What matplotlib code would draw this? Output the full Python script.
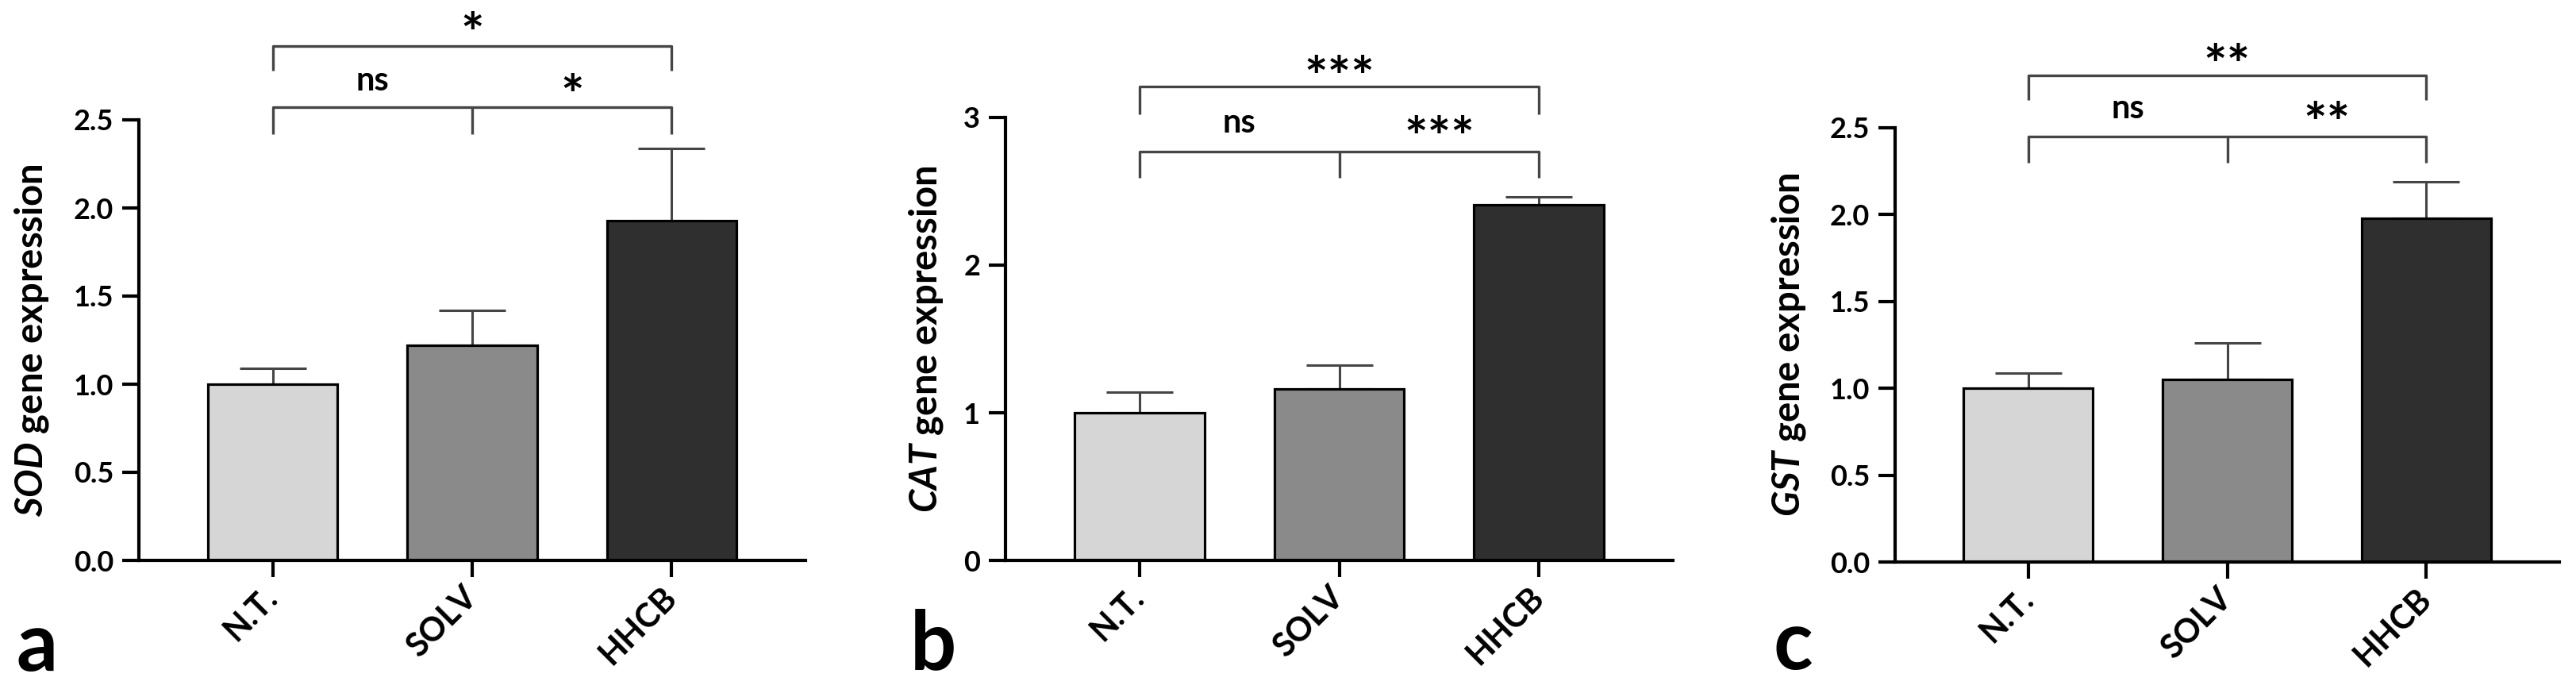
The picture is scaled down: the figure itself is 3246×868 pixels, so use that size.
import numpy as np
import matplotlib
matplotlib.use("Agg")
import matplotlib.pyplot as plt

plt.rcParams['font.family'] = ['Lato', 'DejaVu Sans']
plt.rcParams['font.weight'] = 'bold'
plt.rcParams['mathtext.fontset'] = 'custom'
plt.rcParams['mathtext.rm'] = 'Lato:bold'
plt.rcParams['mathtext.bf'] = 'Lato:bold'
plt.rcParams['mathtext.it'] = 'Lato:bold:italic'
plt.rcParams['mathtext.bfit'] = 'Lato:bold:italic'

groups = ['N.T.', 'SOLV', 'HHCB']
genes = ['SOD', 'CAT', 'GST']
panel_letters = ['a', 'b', 'c']

sod_mean = [1.00, 1.22, 1.93]
sod_err = [0.09, 0.20, 0.41]
cat_mean = [1.00, 1.16, 2.41]
cat_err = [0.14, 0.16, 0.05]
gst_mean = [1.00, 1.05, 1.98]
gst_err = [0.09, 0.21, 0.21]

means = [sod_mean, cat_mean, gst_mean]
errs = [sod_err, cat_err, gst_err]

# significance labels: (N.T. vs SOLV, SOLV vs HHCB, N.T. vs HHCB)
sig_labels = [['ns', '*', '*'], ['ns', '***', '***'], ['ns', '**', '**']]

y_max = [2.5, 3, 2.5]
y_ticks = [[0.0, 0.5, 1.0, 1.5, 2.0, 2.5], [0, 1, 2, 3], [0.0, 0.5, 1.0, 1.5, 2.0, 2.5]]
tick_fmt = ['{:.1f}', '{:.0f}', '{:.1f}']

# bracket heights (data units): lower line, lower legs, text, upper line, upper legs, top text
brackets = [
    [2.57, 2.42, 2.72, 2.92, 2.78, 3.07],
    [2.77, 2.59, 2.96, 3.21, 3.02, 3.37],
    [2.45, 2.30, 2.61, 2.80, 2.66, 2.94],
]

bar_colors = ['#d6d6d6', '#8a8a8a', '#2f2f2f']
line_col = '#454545'

W, H = 3246, 868
fig = plt.figure(figsize=(W / 100, H / 100), dpi=100)

# axes boxes in pixels: left, right, top, bottom
boxes = [(175, 1015, 151, 706), (1267, 2108, 148, 706), (2388, 3225, 161, 708)]
label_x = [-0.132, -0.090, -0.131]
letter_pos = [(47, 845), (1176, 843), (2259, 843)]

star_fs = 50


def star_text(ax, xv, yv, s):
    # asterisks sit high in the em box, so anchor on the baseline and drop it
    ax.annotate(s, (xv, yv), xytext=(0, -0.6 * star_fs), textcoords='offset points',
                ha='center', va='baseline', fontsize=star_fs, fontweight='bold',
                annotation_clip=False)


x = np.arange(len(groups))
for i in range(3):
    l, r, t, b = boxes[i]
    ax = fig.add_axes([l / W, 1 - b / H, (r - l) / W, (b - t) / H])
    ax.bar(x, means[i], width=0.65, color=bar_colors, edgecolor='black',
           linewidth=2.3, zorder=2)
    ax.errorbar(x, means[i], yerr=[np.zeros(3), errs[i]], fmt='none',
                ecolor=line_col, elinewidth=2.2, capsize=30, capthick=2.2, zorder=1)
    ax.set_xlim(-0.67, 2.67)
    ax.set_ylim(0, y_max[i])
    ax.set_yticks(y_ticks[i])
    ax.set_yticklabels([tick_fmt[i].format(v) for v in y_ticks[i]])
    ax.set_xticks(x)
    ax.set_xticklabels(groups, rotation=45, ha='right', va='center',
                       rotation_mode='anchor')
    for s in ['top', 'right']:
        ax.spines[s].set_visible(False)
    for s in ['left', 'bottom']:
        ax.spines[s].set_linewidth(3)
    ax.tick_params(axis='both', width=3, length=15, labelsize=26, pad=8)
    ax.tick_params(axis='x', pad=14, labelsize=30)
    ax.set_ylabel(r'$\mathbfit{' + genes[i] + '}$ gene expression',
                  fontsize=34, fontweight='bold')
    ax.yaxis.set_label_coords(label_x[i], 0.5)

    lo, lo_leg, txt, up, up_leg, top = brackets[i]
    kw = dict(color=line_col, lw=2.4, clip_on=False, solid_capstyle='butt')
    ax.plot([0, 0, 2, 2], [lo_leg, lo, lo, lo_leg], **kw)
    ax.plot([1, 1], [lo, lo_leg], **kw)
    ax.plot([0, 0, 2, 2], [up_leg, up, up, up_leg], **kw)
    ax.text(0.5, txt, sig_labels[i][0], ha='center', va='center', fontsize=30,
            fontweight='bold')
    star_text(ax, 1.5, txt, sig_labels[i][1])
    star_text(ax, 1.0, top, sig_labels[i][2])

    lx, ly = letter_pos[i]
    fig.text(lx / W, 1 - ly / H, panel_letters[i], ha='center', va='baseline',
             fontsize=74, fontweight='bold')

fig.savefig('out.png', dpi=100)
